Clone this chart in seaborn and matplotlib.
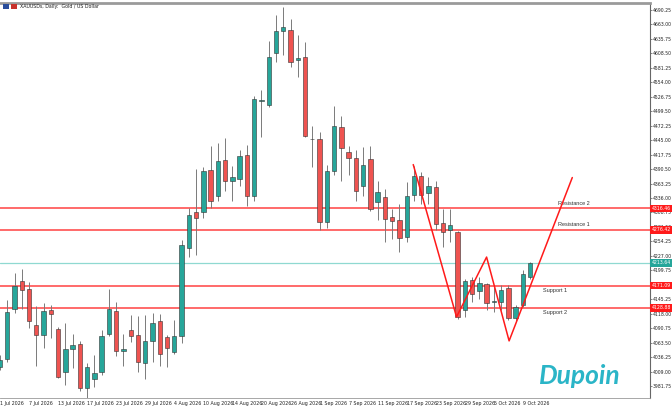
import numpy as np
import pandas as pd
import matplotlib
matplotlib.use("Agg")
import matplotlib.pyplot as plt
import seaborn as sns

# XAUUSD daily candles, 1 Jul 2026 .. 12 Oct 2026
dates = pd.bdate_range("2026-07-01", periods=74)
opens = [4018.1, 4032.0, 4127.8, 4179.1, 4165.4, 4096.4, 4077.6, 4124.6, 4090.2, 4008.7,
         4051.3, 4060.7, 3977.5, 3994.9, 4008.7, 4080.8, 4123.3, 4048.1, 4088.3, 4077.6,
         4025.6, 4065.8, 4103.9, 4073.3, 4046.3, 4076.3, 4241.1, 4308.8, 4308.8, 4389.6,
         4340.7, 4408.4, 4368.9, 4372.1, 4416.5, 4340.7, 4518.0, 4511.8, 4608.9, 4651.4,
         4652.1, 4596.3, 4602.5, 4446.5, 4446.5, 4290.0, 4387.7, 4469.8, 4422.1, 4411.6,
         4358.2, 4409.7, 4328.1, 4337.5, 4299.4, 4293.8, 4262.4, 4342.6, 4378.3, 4345.1,
         4357.7, 4288.7, 4276.3, 4271.8, 4124.6, 4182.3, 4160.9, 4174.8, 4140.2, 4140.2,
         4167.3, 4109.6, 4134.0, 4187.2]
highs = [4040.0, 4143.4, 4194.7, 4202.2, 4177.8, 4132.7, 4138.3, 4134.0, 4092.7, 4101.5,
         4079.5, 4066.9, 4024.4, 4040.0, 4087.0, 4164.1, 4140.2, 4080.8, 4115.2, 4113.9,
         4115.2, 4120.3, 4118.4, 4077.6, 4105.8, 4256.2, 4316.3, 4391.5, 4395.2, 4434.7,
         4439.8, 4449.7, 4397.1, 4427.2, 4435.3, 4528.7, 4539.9, 4631.5, 4680.3, 4696.5,
         4672.8, 4643.9, 4630.7, 4471.7, 4461.0, 4397.7, 4509.3, 4490.5, 4434.7, 4427.2,
         4432.8, 4434.7, 4368.9, 4353.3, 4315.7, 4325.1, 4365.7, 4397.1, 4384.5, 4375.1,
         4368.9, 4315.7, 4315.7, 4273.1, 4184.2, 4187.2, 4187.2, 4175.4, 4168.4, 4171.6,
         4171.6, 4134.0, 4199.8, 4215.4]
lows = [4011.9, 4027.5, 4119.5, 4127.8, 4091.4, 4019.9, 4052.6, 4071.4, 3996.8, 3983.7,
        4015.1, 3972.4, 3959.2, 3980.5, 4002.5, 4075.8, 4038.2, 4019.4, 4063.9, 4008.7,
        3994.9, 4026.9, 4018.8, 4018.1, 4041.4, 4063.2, 4224.2, 4228.0, 4297.5, 4316.3,
        4331.3, 4350.1, 4331.3, 4359.5, 4321.9, 4331.3, 4450.3, 4506.7, 4593.1, 4605.2,
        4582.6, 4564.9, 4450.3, 4395.2, 4275.0, 4278.7, 4380.2, 4368.9, 4380.2, 4331.3,
        4340.7, 4312.5, 4293.8, 4253.0, 4259.4, 4234.2, 4253.0, 4330.0, 4325.1, 4325.1,
        4275.0, 4243.6, 4253.0, 4109.0, 4112.0, 4140.2, 4146.6, 4124.6, 4121.4, 4124.6,
        4105.8, 4103.9, 4130.8, 4184.2]
closes = [4030.7, 4121.4, 4169.7, 4163.5, 4103.9, 4077.1, 4122.7, 4118.4, 3999.3, 4051.3,
          4058.8, 3977.5, 4016.9, 4006.8, 4075.8, 4127.8, 4048.1, 4051.9, 4075.8, 4027.5,
          4065.8, 4101.5, 4042.5, 4053.8, 4076.3, 4246.8, 4303.2, 4297.5, 4387.7, 4331.3,
          4406.5, 4368.9, 4375.1, 4415.3, 4340.7, 4522.5, 4519.8, 4602.5, 4650.3, 4657.8,
          4592.6, 4599.5, 4452.9, 4447.8, 4290.0, 4387.2, 4472.3, 4430.4, 4410.8, 4350.1,
          4398.4, 4315.7, 4346.9, 4297.0, 4292.4, 4261.2, 4340.7, 4377.0, 4342.6, 4358.2,
          4286.2, 4271.8, 4284.4, 4112.0, 4179.7, 4156.0, 4175.9, 4138.3, 4141.5, 4162.2,
          4109.6, 4130.8, 4193.6, 4213.64]

# horizontal levels
level_names = ["Resistance 2", "Resistance 1", "Support 1", "Support 2"]
level_prices = [4316.46, 4276.42, 4171.09, 4128.88]
bid_price = 4213.64

# projected zigzag (bar position, price)
zz_bar = [56.9, 62.86, 67.0, 70.1, 78.8]
zz_price = [4399.0, 4112.0, 4224.8, 4066.9, 4374.6]

# axis ticks
ytick_vals = np.arange(3981.75, 4690.26, 27.25)
xtick_idx = list(range(0, 74, 4))

GREEN = "#26a69a"
RED = "#ef5350"
SMALL = ["Liberation Sans Narrow", "DejaVu Sans"]
LABEL = ["Liberation Sans", "DejaVu Sans"]

df = pd.DataFrame({"date": dates, "open": opens, "high": highs, "low": lows, "close": closes})
df["pos"] = np.arange(len(df))
df["up"] = df["close"] >= df["open"]

sns.set_theme(style="white")
plt.rcParams["font.family"] = LABEL

fig = plt.figure(figsize=(6.72, 4.08), dpi=100)
ax = fig.add_axes([0, 1 - 398 / 408, 650 / 672, 395 / 408])

# wicks
ax.vlines(df["pos"], df["low"], df["high"], color="#7a7a7a", lw=0.7, zorder=2)
# bodies
body_bottom = df[["open", "close"]].min(axis=1)
body_h = (df["close"] - df["open"]).abs().clip(lower=1.2)
colors = np.where(df["up"], GREEN, RED)
ax.bar(df["pos"], body_h, bottom=body_bottom, width=0.6, color=colors,
       edgecolor="#333333", linewidth=0.4, zorder=3)

# levels
for name, price in zip(level_names, level_prices):
    ax.axhline(price, color="#ff2020", lw=1.1, alpha=0.85, zorder=1)
    ax.text(1.002, price, f"{price:.2f}", transform=ax.get_yaxis_transform(),
            fontsize=3.3, family=SMALL, color="white", va="center", ha="left", zorder=6,
            bbox=dict(boxstyle="square,pad=0.3", fc="#ff1a1a", ec="none"), clip_on=False)
ax.axhline(bid_price, color="#8fd9d1", lw=0.9, zorder=1)
ax.text(1.002, bid_price, f"{bid_price:.2f}", transform=ax.get_yaxis_transform(),
        fontsize=3.3, family=SMALL, color="white", va="center", ha="left", zorder=6,
        bbox=dict(boxstyle="square,pad=0.3", fc="#26a69a", ec="none"), clip_on=False)

# level captions
ax.text(76.9, level_prices[0] + 5, "Resistance 2", fontsize=4.0, color="#333333", va="bottom")
ax.text(76.9, level_prices[1] + 5, "Resistance 1", fontsize=4.0, color="#333333", va="bottom")
ax.text(74.8, level_prices[2] - 4, "Support 1", fontsize=4.0, color="#333333", va="top")
ax.text(74.8, level_prices[3] - 4, "Support 2", fontsize=4.0, color="#333333", va="top")

# zigzag projection
zz = pd.DataFrame({"bar": zz_bar, "price": zz_price})
sns.lineplot(data=zz, x="bar", y="price", sort=False, estimator=None, color="#ff1a1a",
             lw=1.1, ax=ax, zorder=4)

ax.set_xlim(0.14, 89.5)
ax.set_ylim(3959.3, 4703.4)
ax.yaxis.tick_right()
ax.set_yticks(ytick_vals)
ax.set_yticklabels([f"{v:.2f}" for v in ytick_vals], fontsize=3.3, family=SMALL, color="#222222")
ax.set_xticks(xtick_idx)
ax.set_xticklabels([f"{dates[i].day} {dates[i].strftime('%b %Y')}" for i in xtick_idx],
                   fontsize=3.4, family=SMALL, color="#222222", ha="left")
ax.tick_params(axis="both", length=1.5, width=0.5, pad=0.7, colors="#555555", labelcolor="#222222")
ax.tick_params(axis="x", length=1.5, pad=0.8)
ax.set_xlabel("")
ax.set_ylabel("")
ax.spines["left"].set_visible(False)
ax.spines["right"].set_color("#666666")
ax.spines["right"].set_linewidth(0.8)
ax.spines["bottom"].set_color("#999999")
ax.spines["bottom"].set_linewidth(0.6)
ax.spines["top"].set_color("#9a9a9a")
ax.spines["top"].set_linewidth(2.0)

# header
fig.patches.append(plt.Rectangle((3 / 672, 1 - 9 / 408), 6 / 672, 5 / 408, transform=fig.transFigure,
                                 fc="#2a4d9b", ec="none"))
fig.patches.append(plt.Rectangle((11 / 672, 1 - 9 / 408), 6 / 672, 5 / 408, transform=fig.transFigure,
                                 fc="#c8332d", ec="none"))
fig.text(20 / 672, 1 - 6.5 / 408, "XAUUSDs, Daily:  Gold / US Dollar", fontsize=3.4,
         family=SMALL, color="#222222", va="center")

# watermark logo
fig.text(580 / 672, 1 - 376 / 408, "Dupoin", fontsize=19, color="#2bb5c7", style="italic",
         fontweight="bold", family=["Lato", "DejaVu Sans"], ha="center", va="center")

fig.savefig("out.png", dpi=100, facecolor="white")
